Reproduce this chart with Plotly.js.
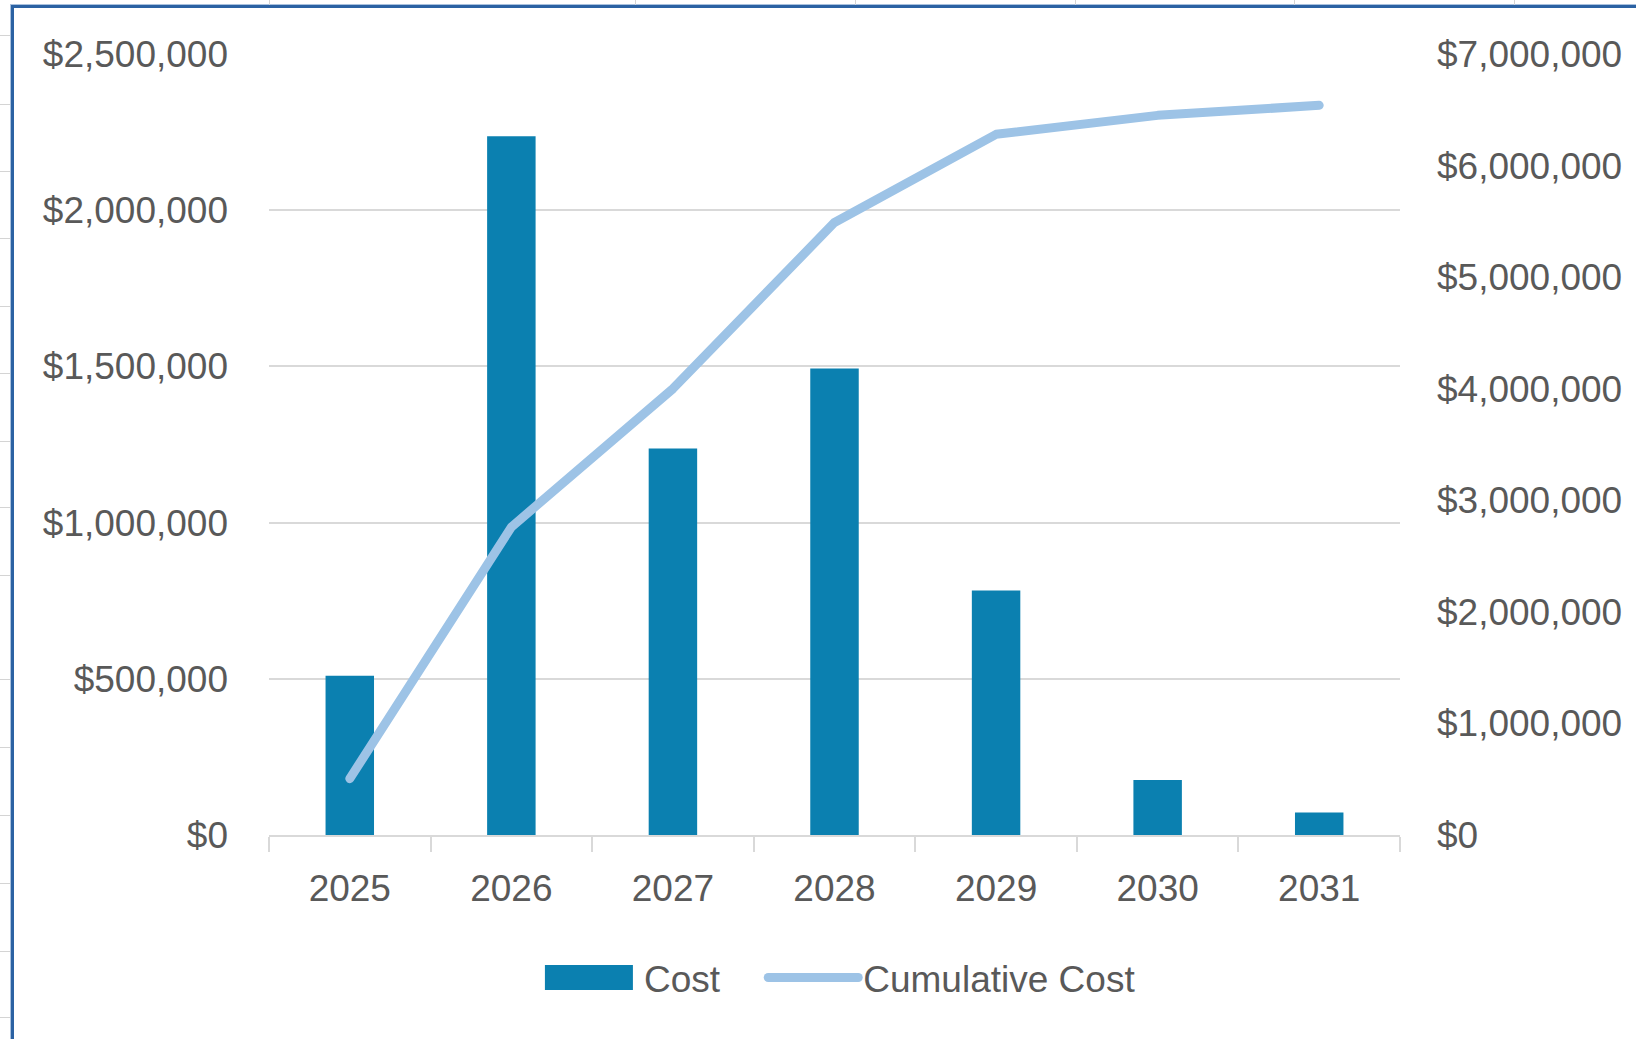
<!DOCTYPE html>
<html>
<head>
<meta charset="utf-8">
<script src="https://cdn.plot.ly/plotly-3.0.1.min.js"></script>
<style>
  html, body { margin: 0; padding: 0; background: #ffffff; }
  #wrap { position: relative; width: 1636px; height: 1039px; overflow: hidden; }
  #chart { position: absolute; left: 0; top: 0; width: 1636px; height: 1039px; }
  #frame { position: absolute; left: 11px; top: 5px; right: -10px; bottom: -10px;
           border-left: 3px solid #2b62a3; border-top: 3px solid #2b62a3; pointer-events: none;
           box-shadow: -1px -1px 0 #a9c1de; }
  .cellmark-h { position: absolute; left: 0; width: 10px; height: 1px; background: #d4d4d4; }
  .cellmark-v { position: absolute; top: 0; width: 1px; height: 5px; background: #d4d4d4; }
  .js-line { stroke-linecap: round; stroke-linejoin: round; }
</style>
</head>
<body>
<div id="wrap">
  <div id="chart"></div>
  <div id="frame"></div>
  <div id="cells"></div>
</div>
<script>
const years = ['2025', '2026', '2027', '2028', '2029', '2030', '2031'];
const cost = [510000, 2237000, 1237000, 1493000, 783000, 176000, 72000];
const cumulativeCost = [505000, 2760000, 4000000, 5490000, 6280000, 6450000, 6540000];
const leftTicks = [0, 500000, 1000000, 1500000, 2000000, 2500000];
const rightTicks = [0, 1000000, 2000000, 3000000, 4000000, 5000000, 6000000, 7000000];
const seriesNames = ['Cost', 'Cumulative Cost'];

const fmt = v => '$' + v.toLocaleString('en-US');
const textColor = '#595959';
const fontFam = '"Liberation Sans", Arial, sans-serif';

// faint spreadsheet cell-grid marks visible outside the chart frame (decoration only)
(function () {
  const cells = document.getElementById('cells');
  [35, 104, 171, 238, 306, 373, 441, 507, 575, 679, 747, 815, 883, 951, 1017].forEach(y => {
    const d = document.createElement('div'); d.className = 'cellmark-h'; d.style.top = y + 'px'; cells.appendChild(d);
  });
  [269, 635, 855, 1075, 1294, 1514].forEach(x => {
    const d = document.createElement('div'); d.className = 'cellmark-v'; d.style.left = x + 'px'; cells.appendChild(d);
  });
})();

const traces = [
  {
    type: 'bar', name: seriesNames[0] + '\u00a0\u00a0\u00a0\u2009', x: years, y: cost,
    marker: { color: '#0b80b0' }, width: 0.3, yaxis: 'y'
  },
  {
    type: 'scatter', mode: 'lines', name: seriesNames[1], x: years, y: cumulativeCost,
    line: { color: '#9dc3e6', width: 9 }, yaxis: 'y2'
  }
];

const layout = {
  width: 1636, height: 1039,
  margin: { l: 269, r: 236, t: 54, b: 204 },
  paper_bgcolor: '#ffffff', plot_bgcolor: '#ffffff',
  font: { family: fontFam, color: textColor, size: 37 },
  showlegend: true,
  legend: {
    orientation: 'h', x: 0.507, xanchor: 'center', y: -0.183, yanchor: 'middle',
    font: { size: 37, color: textColor }, itemwidth: 90, traceorder: 'normal'
  },
  xaxis: {
    type: 'category', showgrid: false, zeroline: false,
    showline: true, linecolor: '#d9d9d9', linewidth: 2,
    ticks: 'outside', tickson: 'boundaries', ticklen: 15, tickwidth: 2, tickcolor: '#d9d9d9',
    tickfont: { size: 37, color: textColor }, ticklabelstandoff: 20
  },
  yaxis: {
    range: [0, 2500000], tickvals: leftTicks, ticktext: leftTicks.map(fmt),
    showgrid: true, gridcolor: '#d9d9d9', gridwidth: 2, zeroline: false,
    showline: false, ticks: '', tickfont: { size: 37, color: textColor },
    ticklabelstandoff: 40
  },
  yaxis2: {
    overlaying: 'y', side: 'right', range: [0, 7000000],
    tickvals: rightTicks, ticktext: rightTicks.map(fmt),
    showgrid: false, zeroline: false, showline: false, ticks: '',
    tickfont: { size: 37, color: textColor }, ticklabelstandoff: 36
  },
  bargap: 0.7
};

Plotly.newPlot('chart', traces, layout, { displayModeBar: false, staticPlot: true }).then(gd => {
  // enlarge the bar legend swatch to match the reference look
  const pts = gd.querySelectorAll('.legend .traces .legendpoints path');
  pts.forEach(p => {
    const d = (p.getAttribute('d') || '').replace(/\s/g, '');
    if (d === 'M6,6H-6V-6H6Z') {
      p.setAttribute('d', 'M39,12.5H-49V-12.5H39Z');
    }
  });
});
</script>
</body>
</html>
